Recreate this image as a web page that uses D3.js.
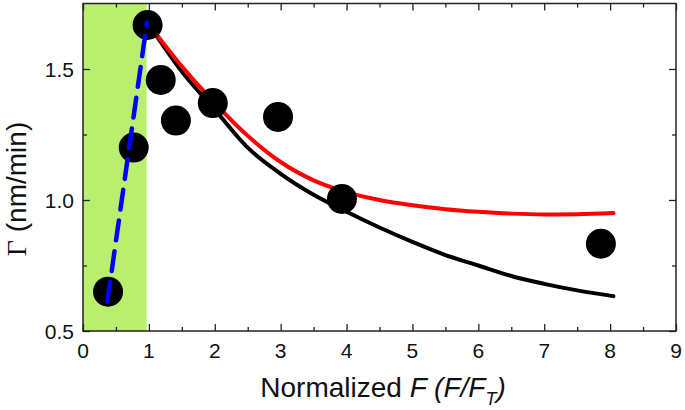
<!DOCTYPE html>
<html><head><meta charset="utf-8">
<script src="https://cdn.jsdelivr.net/npm/d3@7"></script>
<style>body{margin:0;background:#fff}svg{display:block}</style>
</head><body><svg id="c" width="685" height="410"></svg>
<script>
// Data
const pointsX = [0.38, 0.77, 0.98, 1.18, 1.41, 1.97, 2.96, 3.93, 7.86];
const pointsY = [0.65, 1.20, 1.668, 1.458, 1.303, 1.37, 1.317, 1.004, 0.833];
const redX = [1.0, 1.5, 2.0, 2.5, 3.0, 3.5, 4.0, 4.5, 5.0, 5.5, 6.0, 6.5, 7.0, 7.5, 8.05];
const redY = [1.67, 1.51, 1.37, 1.245, 1.145, 1.075, 1.03, 1.0, 0.98, 0.965, 0.955, 0.948, 0.945, 0.946, 0.95];
const blackX = [1.0, 1.5, 2.0, 2.5, 3.0, 3.5, 4.0, 4.5, 5.0, 5.5, 6.0, 6.5, 7.0, 7.5, 8.05];
const blackY = [1.67, 1.49, 1.345, 1.2, 1.1, 1.02, 0.955, 0.895, 0.84, 0.79, 0.75, 0.71, 0.68, 0.655, 0.633];
const blueX = [0.37, 0.97];
const blueY = [0.612, 1.677];
const shadeRange = [0, 0.965];
const xTicks = [0,1,2,3,4,5,6,7,8,9];
const yTicks = [0.5, 1.0, 1.5];

const svg = d3.select("#c");
const L = 83, R = 676, T = 3.5, B = 331;
const x = d3.scaleLinear().domain([0, 9]).range([L, R]);
const y = d3.scaleLinear().domain([0.5, 1.75]).range([B, T]);

// green shaded region
svg.append("rect").attr("x", x(shadeRange[0])).attr("y", y(1.75))
  .attr("width", x(shadeRange[1]) - x(shadeRange[0])).attr("height", y(0.5) - y(1.75))
  .attr("fill", "#b9ee6f");

const fmtY = d3.format(".1f");
function tickAxis(g, axisGen) { g.call(axisGen); g.select(".domain").remove(); g.selectAll("line").attr("stroke", "#222").attr("stroke-width", 1.3); }

const xMinor = d3.range(0.5, 9, 1);
const yMinor = [0.75, 1.25];
svg.append("g").attr("transform", `translate(0,${B})`)
  .call(g => tickAxis(g, d3.axisTop(x).tickValues(xTicks).tickSize(7).tickFormat("")));
svg.append("g").attr("transform", `translate(0,${B})`)
  .call(g => tickAxis(g, d3.axisTop(x).tickValues(xMinor).tickSize(4).tickFormat("")));
svg.append("g").attr("transform", `translate(0,${T})`)
  .call(g => tickAxis(g, d3.axisBottom(x).tickValues(xTicks).tickSize(7).tickFormat("")));
svg.append("g").attr("transform", `translate(0,${T})`)
  .call(g => tickAxis(g, d3.axisBottom(x).tickValues(xMinor).tickSize(4).tickFormat("")));
svg.append("g").attr("transform", `translate(${L},0)`)
  .call(g => tickAxis(g, d3.axisRight(y).tickValues(yTicks).tickSize(7).tickFormat("")));
svg.append("g").attr("transform", `translate(${L},0)`)
  .call(g => tickAxis(g, d3.axisRight(y).tickValues(yMinor).tickSize(4).tickFormat("")));
svg.append("g").attr("transform", `translate(${R},0)`)
  .call(g => tickAxis(g, d3.axisLeft(y).tickValues(yTicks).tickSize(7).tickFormat("")));
svg.append("g").attr("transform", `translate(${R},0)`)
  .call(g => tickAxis(g, d3.axisLeft(y).tickValues(yMinor).tickSize(4).tickFormat("")));

svg.append("rect").attr("x", L).attr("y", T).attr("width", R - L).attr("height", B - T)
  .attr("fill", "none").attr("stroke", "#222").attr("stroke-width", 1.5);

const font = "'Liberation Sans', Arial, sans-serif";
svg.append("g").selectAll("text").data(xTicks).join("text")
  .attr("x", d => x(d)).attr("y", 358).attr("text-anchor", "middle")
  .attr("font-family", font).attr("font-size", 21).attr("fill", "#111").text(d => d);
svg.append("g").selectAll("text").data(yTicks).join("text")
  .attr("x", 74).attr("y", d => y(d) + 7.5).attr("text-anchor", "end")
  .attr("font-family", font).attr("font-size", 21).attr("fill", "#111").text(d => fmtY(d));

const line = d3.line().x(d => x(d[0])).y(d => y(d[1])).curve(d3.curveMonotoneX);
svg.append("path").datum(blackX.map((v, i) => [v, blackY[i]])).attr("d", line)
  .attr("fill", "none").attr("stroke", "#000").attr("stroke-width", 4).attr("stroke-linecap", "round");
svg.append("path").datum(redX.map((v, i) => [v, redY[i]])).attr("d", line)
  .attr("fill", "none").attr("stroke", "#ff0000").attr("stroke-width", 4).attr("stroke-linecap", "round");

svg.append("g").selectAll("circle").data(pointsX.map((v, i) => [v, pointsY[i]])).join("circle")
  .attr("cx", d => x(d[0])).attr("cy", d => y(d[1])).attr("r", 15).attr("fill", "#000");

svg.append("path").datum(blueX.map((v, i) => [v, blueY[i]]))
  .attr("d", d3.line().x(d => x(d[0])).y(d => y(d[1])))
  .attr("fill", "none").attr("stroke", "#0000ff").attr("stroke-width", 4.5)
  .attr("stroke-dasharray", "20,11").attr("stroke-linecap", "round");

const xt = svg.append("text").attr("x", 383).attr("y", 397).attr("text-anchor", "middle")
  .attr("font-family", font).attr("font-size", 28).attr("fill", "#111");
xt.append("tspan").text("Normalized ");
xt.append("tspan").attr("font-style", "italic").text("F (F/F");
xt.append("tspan").attr("font-style", "italic").attr("font-size", 18).attr("dy", 8).text("T");
xt.append("tspan").attr("font-style", "italic").attr("dy", -8).text(")");

const yt = svg.append("text").attr("transform", "translate(26,189) rotate(-90)").attr("text-anchor", "middle")
  .attr("font-family", font).attr("font-size", 28).attr("fill", "#111");
yt.append("tspan").attr("font-family", "'Liberation Serif', 'Times New Roman', serif").text("Γ");
yt.append("tspan").text(" (nm/min)");
</script></body></html>
